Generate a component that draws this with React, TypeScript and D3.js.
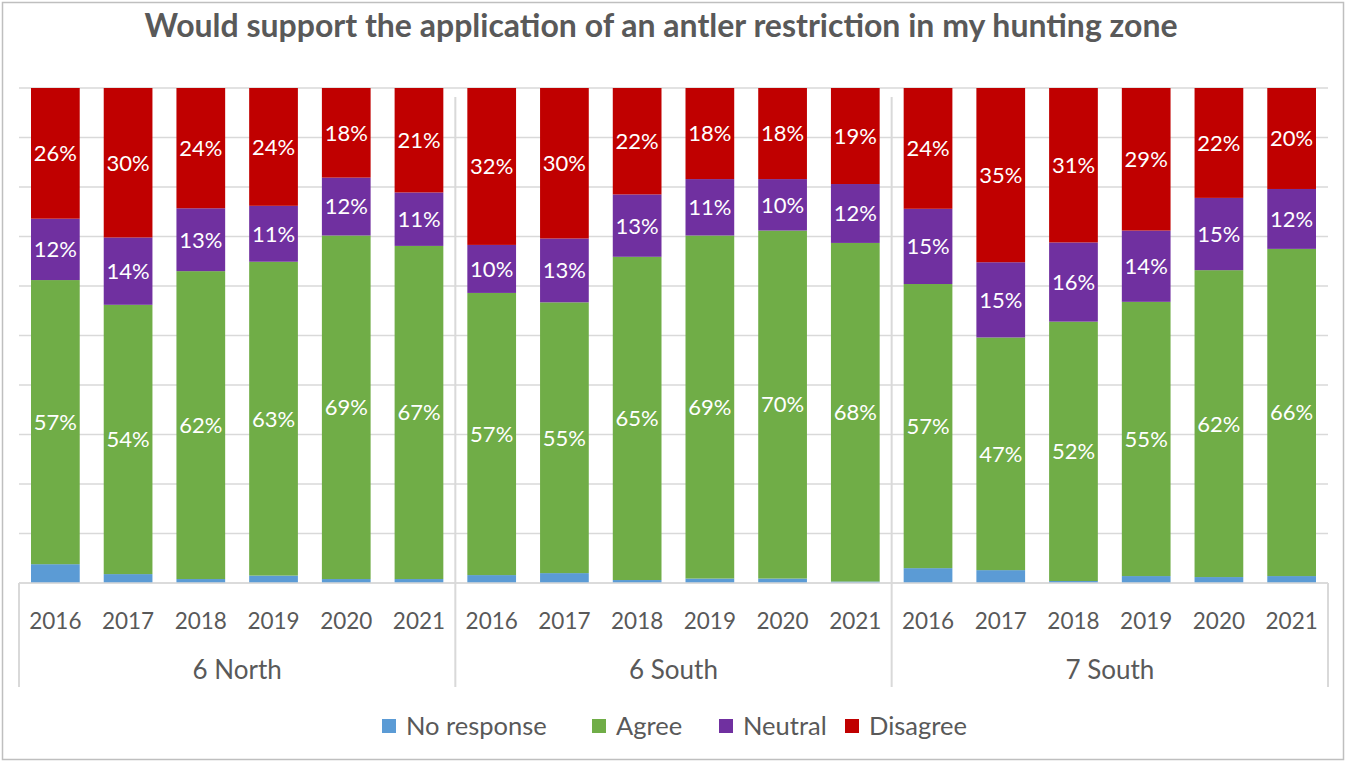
import React from "react";
import * as d3 from "d3";

const groups = ["6 North", "6 South", "7 South"];
const years = ["2016", "2017", "2018", "2019", "2020", "2021"];
const seriesNames = ["No response", "Agree", "Neutral", "Disagree"];
const colors = ["#5b9bd5", "#70ad47", "#7030a0", "#c00000"];

// values per bar (18 bars: 6 North 2016..2021, 6 South 2016..2021, 7 South 2016..2021)
const noResponse = [3.8, 1.8, 0.8, 1.5, 0.8, 0.8, 1.6, 2.0, 0.6, 0.9, 0.9, 0.3, 3.0, 2.6, 0.4, 1.4, 1.2, 1.4];
const agree = [57.4, 54.4, 62.2, 63.4, 69.4, 67.3, 57.0, 54.7, 65.3, 69.3, 70.3, 68.4, 57.4, 47.0, 52.4, 55.4, 62.0, 66.1];
const neutral = [12.4, 13.6, 12.7, 11.3, 11.7, 10.8, 9.7, 12.9, 12.6, 11.4, 10.4, 11.9, 15.2, 15.2, 16.0, 14.4, 14.6, 12.1];
const disagree = [26.4, 30.2, 24.3, 23.8, 18.1, 21.1, 31.7, 30.4, 21.5, 18.4, 18.4, 19.4, 24.4, 35.2, 31.2, 28.8, 22.2, 20.4];
const yTicks = [0, 10, 20, 30, 40, 50, 60, 70, 80, 90, 100];

const W = 1347;
const H = 765;
const FONT = "Lato, 'Open Sans', sans-serif";
const TEXT = "#595959";
const GRID = "#d9d9d9";

export default function App() {
  const left = 19, right = 1328, top = 88, bottom = 583;
  const axisBottom = 687;
  const cats = groups.flatMap((g) => years.map((y) => `${g}|${y}`));
  const x = d3.scaleBand<string>().domain(cats).range([left, right]).paddingInner(0.33).paddingOuter(0.165);
  const y = d3.scaleLinear().domain([0, 100]).range([bottom, top]);

  const rows = cats.map((c, i) => ({
    cat: c,
    "No response": noResponse[i],
    Agree: agree[i],
    Neutral: neutral[i],
    Disagree: disagree[i],
  }));
  const stacked = d3.stack<any>().keys(seriesNames)(rows);

  const groupW = (right - left) / groups.length;

  const legendX = [382, 592, 719, 845];

  return (
    <div style={{ position: "fixed", left: 0, top: 0 }}>
      <svg width={W} height={H} style={{ display: "block", background: "#fff" }}>
        <rect x={2.5} y={2.5} width={1341} height={757} fill="#fff" stroke="#bfbfbf" strokeWidth={1.5} />
        <text x={661} y={37} textAnchor="middle" fontFamily={FONT} fontWeight={700} fontSize={32} fill={TEXT}>
          Would support the application of an antler restriction in my hunting zone
        </text>
        {yTicks.map((t) => (
          <line key={t} x1={left} x2={right} y1={y(t)} y2={y(t)} stroke={GRID} strokeWidth={1.3} />
        ))}
        {groups.slice(1).map((g, i) => {
          const sx = left + groupW * (i + 1);
          return <line key={g} x1={sx} x2={sx} y1={97} y2={axisBottom} stroke={GRID} strokeWidth={2} />;
        })}
        <line x1={left} x2={left} y1={bottom} y2={axisBottom} stroke={GRID} strokeWidth={2} />
        <line x1={right} x2={right} y1={bottom} y2={axisBottom} stroke={GRID} strokeWidth={2} />
        {stacked.map((s, si) => (
          <g key={s.key} fill={colors[si]}>
            {s.map((d, i) => (
              <rect
                key={i}
                x={x(cats[i])}
                width={x.bandwidth()}
                y={y(d[1])}
                height={y(d[0]) - y(d[1])}
              />
            ))}
          </g>
        ))}
        {stacked.slice(1).map((s) => (
          <g key={s.key + "lbl"}>
            {s.map((d, i) => (
              <text
                key={i}
                x={(x(cats[i]) as number) + x.bandwidth() / 2}
                y={(y(d[0]) + y(d[1])) / 2}
                dy="0.36em"
                textAnchor="middle"
                fontFamily={FONT}
                fontSize={22}
                fill="#fff"
              >
                {Math.round(d[1] - d[0])}%
              </text>
            ))}
          </g>
        ))}
        <line x1={left} x2={right} y1={bottom} y2={bottom} stroke={GRID} strokeWidth={1.5} />
        {cats.map((c) => (
          <text
            key={c}
            x={(x(c) as number) + x.bandwidth() / 2}
            y={629}
            textAnchor="middle"
            fontFamily={FONT}
            fontSize={22.5}
            fill={TEXT}
          >
            {c.split("|")[1]}
          </text>
        ))}
        {groups.map((g, i) => (
          <text
            key={g}
            x={left + groupW * (i + 0.5)}
            y={679}
            textAnchor="middle"
            fontFamily={FONT}
            fontSize={26}
            fill={TEXT}
          >
            {g}
          </text>
        ))}
        {seriesNames.map((n, i) => (
          <g key={n}>
            <rect x={legendX[i]} y={719} width={14} height={14} fill={colors[i]} />
            <text x={legendX[i] + 24} y={735} fontFamily={FONT} fontSize={25.5} fill={TEXT}>
              {n}
            </text>
          </g>
        ))}
      </svg>
    </div>
  );
}
